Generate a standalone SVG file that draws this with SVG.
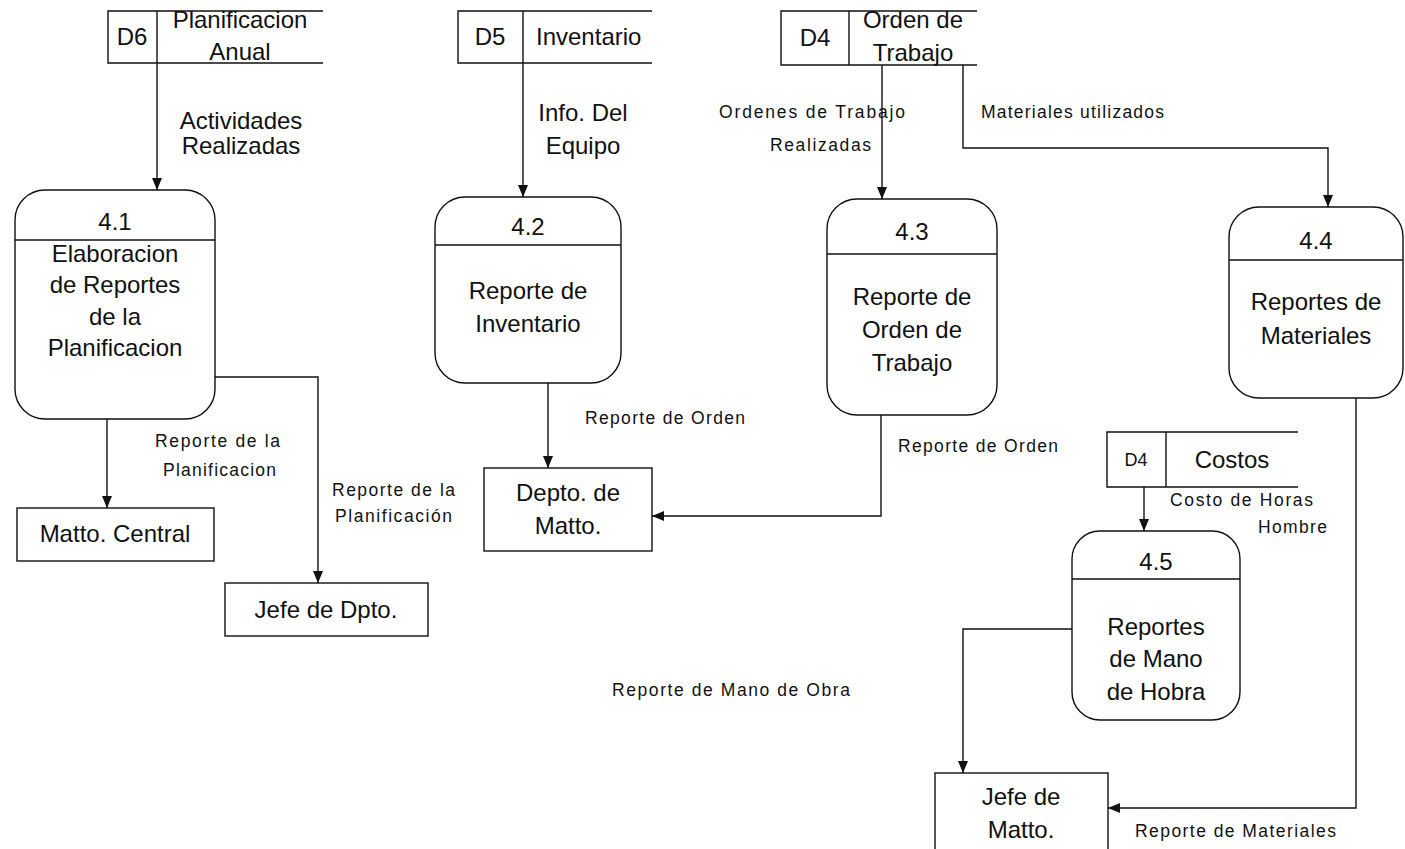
<svg xmlns="http://www.w3.org/2000/svg" width="1405" height="849" viewBox="0 0 1405 849">
<style>
.ln{fill:none;stroke:#111;stroke-width:1.4}
.bx{fill:#fff;stroke:#111;stroke-width:1.4}
.t{font-family:"Liberation Sans",Arial,sans-serif;font-size:24px;fill:#111;text-anchor:middle}
.s{font-family:"Liberation Sans",Arial,sans-serif;font-size:17.5px;fill:#111}
</style>
<defs>
<marker id="ah" markerUnits="userSpaceOnUse" markerWidth="14" markerHeight="12" refX="13" refY="6" orient="auto">
<path d="M1,1 L13,6 L1,11 z" fill="#111"/>
</marker>
</defs>
<rect width="1405" height="849" fill="#fff"/>

<g id="connectors">
<path class="ln" d="M157 63 V190" marker-end="url(#ah)"/>
<path class="ln" d="M523 63 V197" marker-end="url(#ah)"/>
<path class="ln" d="M882 65 V199" marker-end="url(#ah)"/>
<path class="ln" d="M963 65 V148 H1328 V207" marker-end="url(#ah)"/>
<path class="ln" d="M107 419 V508" marker-end="url(#ah)"/>
<path class="ln" d="M215 377 H318 V583" marker-end="url(#ah)"/>
<path class="ln" d="M548 383 V468" marker-end="url(#ah)"/>
<path class="ln" d="M881 415 V516 H652" marker-end="url(#ah)"/>
<path class="ln" d="M1144 487 V531" marker-end="url(#ah)"/>
<path class="ln" d="M1072 629 H963 V773" marker-end="url(#ah)"/>
<path class="ln" d="M1356 398 V808 H1108" marker-end="url(#ah)"/>
</g>

<g id="labels">
<text class="t" x="241" y="129">Actividades</text>
<text class="t" x="241" y="154">Realizadas</text>
<text class="t" x="583" y="121">Info. Del</text>
<text class="t" x="583" y="154">Equipo</text>
<text class="s" x="719" y="118" textLength="186" lengthAdjust="spacing">Ordenes de Trabajo</text>
<text class="s" x="770" y="151" textLength="101" lengthAdjust="spacing">Realizadas</text>
<text class="s" x="981" y="118" textLength="183" lengthAdjust="spacing">Materiales utilizados</text>
<text class="s" x="155" y="447" textLength="125" lengthAdjust="spacing">Reporte de la</text>
<text class="s" x="163" y="476" textLength="113" lengthAdjust="spacing">Planificacion</text>
<text class="s" x="332" y="496" textLength="123" lengthAdjust="spacing">Reporte de la</text>
<text class="s" x="335" y="522" textLength="117" lengthAdjust="spacing">Planificación</text>
<text class="s" x="585" y="424" textLength="160" lengthAdjust="spacing">Reporte de Orden</text>
<text class="s" x="898" y="452" textLength="160" lengthAdjust="spacing">Reporte de Orden</text>
<text class="s" x="1170" y="506" textLength="143" lengthAdjust="spacing">Costo de Horas</text>
<text class="s" x="1258" y="533" textLength="69" lengthAdjust="spacing">Hombre</text>
<text class="s" x="612" y="696" textLength="238" lengthAdjust="spacing">Reporte de Mano de Obra</text>
<text class="s" x="1135" y="837" textLength="201" lengthAdjust="spacing">Reporte de Materiales</text>
</g>

<g id="D6">
<path class="ln" d="M323 11 H108 V63 H323 M157 11 V63"/>
<text class="t" x="132" y="45">D6</text>
<text class="t" x="240" y="28">Planificacion</text>
<text class="t" x="240" y="60">Anual</text>
</g>

<g id="D5">
<path class="ln" d="M652 11 H458 V63 H652 M523 11 V63"/>
<text class="t" x="490" y="45">D5</text>
<text class="t" x="536" y="45" style="text-anchor:start">Inventario</text>
</g>

<g id="D4-orden">
<path class="ln" d="M977 11 H781 V65 H977 M849 11 V65"/>
<text class="t" x="815" y="46">D4</text>
<text class="t" x="913" y="28">Orden de</text>
<text class="t" x="913" y="61">Trabajo</text>
</g>

<g id="D4-costos">
<path class="ln" d="M1298 432 H1107 V487 H1298 M1166 432 V487"/>
<text class="t" x="1136" y="466" style="font-size:18px">D4</text>
<text class="t" x="1232" y="468">Costos</text>
</g>

<g id="P4.1">
<rect class="bx" x="15" y="190" width="200" height="229" rx="30"/>
<path class="ln" d="M15 240 H215"/>
<text class="t" x="115" y="230">4.1</text>
<text class="t" x="115" y="262">Elaboracion</text>
<text class="t" x="115" y="293">de Reportes</text>
<text class="t" x="115" y="325">de la</text>
<text class="t" x="115" y="356">Planificacion</text>
</g>

<g id="P4.2">
<rect class="bx" x="435" y="197" width="186" height="186" rx="30"/>
<path class="ln" d="M435 245 H621"/>
<text class="t" x="528" y="235">4.2</text>
<text class="t" x="528" y="299">Reporte de</text>
<text class="t" x="528" y="332">Inventario</text>
</g>

<g id="P4.3">
<rect class="bx" x="827" y="199" width="170" height="216" rx="30"/>
<path class="ln" d="M827 254 H997"/>
<text class="t" x="912" y="240">4.3</text>
<text class="t" x="912" y="305">Reporte de</text>
<text class="t" x="912" y="338">Orden de</text>
<text class="t" x="912" y="371">Trabajo</text>
</g>

<g id="P4.4">
<rect class="bx" x="1229" y="207" width="174" height="191" rx="30"/>
<path class="ln" d="M1229 260 H1403"/>
<text class="t" x="1316" y="249">4.4</text>
<text class="t" x="1316" y="310">Reportes de</text>
<text class="t" x="1316" y="344">Materiales</text>
</g>

<g id="P4.5">
<rect class="bx" x="1072" y="531" width="168" height="189" rx="28"/>
<path class="ln" d="M1072 579 H1240"/>
<text class="t" x="1156" y="570">4.5</text>
<text class="t" x="1156" y="635">Reportes</text>
<text class="t" x="1156" y="667">de Mano</text>
<text class="t" x="1156" y="700">de Hobra</text>
</g>

<g id="E-matto-central">
<rect class="bx" x="17" y="508" width="197" height="53"/>
<text class="t" x="115" y="542">Matto. Central</text>
</g>

<g id="E-jefe-dpto">
<rect class="bx" x="225" y="583" width="203" height="53"/>
<text class="t" x="326" y="618">Jefe de Dpto.</text>
</g>

<g id="E-depto-matto">
<rect class="bx" x="484" y="468" width="168" height="83"/>
<text class="t" x="568" y="501">Depto. de</text>
<text class="t" x="568" y="534">Matto.</text>
</g>

<g id="E-jefe-matto">
<rect class="bx" x="935" y="773" width="173" height="80"/>
<text class="t" x="1021" y="805">Jefe de</text>
<text class="t" x="1021" y="838">Matto.</text>
</g>
</svg>
